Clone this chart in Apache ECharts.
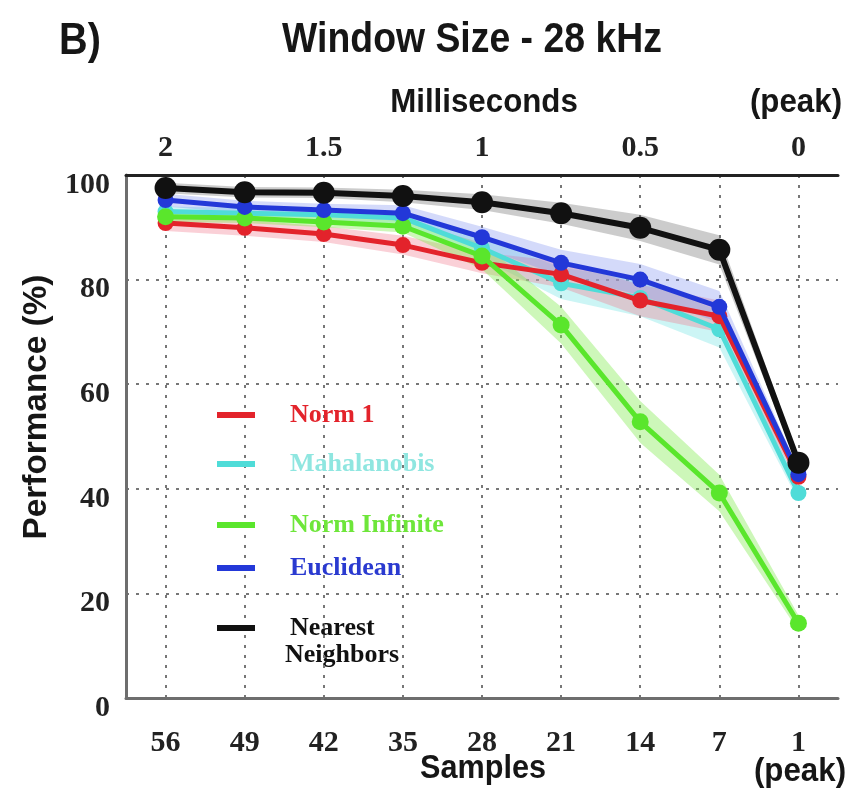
<!DOCTYPE html>
<html>
<head>
<meta charset="utf-8">
<script src="https://cdn.jsdelivr.net/npm/echarts@6/dist/echarts.min.js"></script>
<style>html,body{margin:0;padding:0;background:#fff}#c{width:852px;height:788px}</style>
</head>
<body>
<div id="c"></div>
<script>
// ---- data ----
var samples = ['56', '49', '42', '35', '28', '21', '14', '7', '1'];
var msLabels = ['2', '', '1.5', '', '1', '', '0.5', '', '0'];
var yTicks = [0, 20, 40, 60, 80, 100];

var norm1 = [90.8, 89.9, 88.7, 86.6, 83.2, 81.0, 76.0, 73.0, 42.3];
var mahalanobis = [93.0, 92.7, 92.4, 91.8, 86.0, 79.3, 76.5, 70.5, 39.2];
var normInf = [92.0, 91.8, 91.0, 90.2, 84.5, 71.3, 52.8, 39.2, 14.3];
var euclidean = [95.2, 93.9, 93.3, 92.7, 88.1, 83.2, 80.0, 74.8, 42.8];
var nearest = [97.5, 96.7, 96.6, 96.0, 94.8, 92.7, 89.9, 85.7, 45.0];

// half-width of the shaded band around each curve
var norm1Err = [1.5, 1.5, 1.5, 1.8, 2.0, 2.5, 3.0, 3.0, 1.5];
var mahalanobisErr = [1.0, 1.0, 1.0, 1.2, 2.0, 3.0, 3.5, 3.5, 1.5];
var normInfErr = [1.0, 1.0, 1.0, 1.2, 2.5, 3.5, 4.0, 3.5, 1.5];
var euclideanErr = [1.2, 1.2, 1.2, 1.5, 2.0, 2.5, 3.0, 3.0, 1.0];
var nearestErr = [1.0, 1.0, 1.0, 1.2, 1.5, 2.0, 2.5, 2.8, 1.0];

var SERIF = '"Liberation Serif", "DejaVu Serif", serif';
var SANS = '"Liberation Sans", Arial, sans-serif';

var defs = [
  {name: 'Mahalanobis', data: mahalanobis, err: mahalanobisErr, color: '#4fdcd8', band: 'rgba(110,225,225,0.35)', size: 16, width: 5},
  {name: 'Norm 1', data: norm1, err: norm1Err, color: '#e3232b', band: 'rgba(240,120,140,0.35)', size: 16, width: 5},
  {name: 'Norm Infinite', data: normInf, err: normInfErr, color: '#5ae62c', band: 'rgba(130,235,80,0.40)', size: 17, width: 5},
  {name: 'Euclidean', data: euclidean, err: euclideanErr, color: '#2338d8', band: 'rgba(120,140,240,0.32)', size: 16, width: 5},
  {name: 'Nearest Neighbors', data: nearest, err: nearestErr, color: '#111111', band: 'rgba(110,110,110,0.35)', size: 22, width: 6}
];

var series = [];
defs.forEach(function (d, i) {
  var lo = d.data.map(function (v, k) { return +(v - d.err[k]).toFixed(2); });
  var span = d.err.map(function (e) { return +(2 * e).toFixed(2); });
  series.push({
    name: d.name + ' band lo', type: 'line', stack: 'band' + i, data: lo,
    symbol: 'none', lineStyle: {opacity: 0}, silent: true, z: 1
  });
  series.push({
    name: d.name + ' band', type: 'line', stack: 'band' + i, data: span,
    symbol: 'none', lineStyle: {opacity: 0}, areaStyle: {color: d.band, opacity: 1}, silent: true, z: 1
  });
});
defs.forEach(function (d, i) {
  series.push({
    name: d.name, type: 'line', data: d.data, symbol: 'circle', symbolSize: d.size,
    itemStyle: {color: d.color}, lineStyle: {color: d.color, width: d.width}, z: 3 + i
  });
});

var legendRows = [
  {name: 'Norm 1', y: 410, color: '#e3232b'},
  {name: 'Mahalanobis', y: 459, color: '#8fe6e0'},
  {name: 'Norm Infinite', y: 520, color: '#6ee63a'},
  {name: 'Euclidean', y: 563, color: '#2a3ad0'},
  {name: 'Nearest Neighbors', y: 623, color: '#111111'}
];
var legends = legendRows.map(function (r) {
  return {
    data: [r.name], left: 212, top: r.y - 13, itemWidth: 38, itemHeight: 6, icon: 'rect',
    selectedMode: false, orient: 'vertical',
    formatter: function (n) { return n === 'Nearest Neighbors' ? 'Nearest' : n; },
    textStyle: {color: r.color, fontFamily: SERIF, fontWeight: 'bold', fontSize: 26, padding: [0, 0, 0, 30]}
  };
});

function narrowText(text, x, y, size, sx, rot) {
  return {
    type: 'text', x: x, y: y, scaleX: sx, rotation: rot || 0,
    style: {text: text, x: 0, y: 0, align: 'center', verticalAlign: 'middle', font: 'bold ' + size + 'px ' + SANS, fill: '#161616'}
  };
}

var chart = echarts.init(document.getElementById('c'));
chart.setOption({
  backgroundColor: '#fff',
  animation: false,
  legend: legends,
  grid: {left: 126, right: 14, top: 175, bottom: 90, containLabel: false},
  xAxis: [{
    type: 'category', data: samples, boundaryGap: true, position: 'bottom',
    axisLine: {lineStyle: {color: '#6e6e6e', width: 3}},
    axisTick: {inside: true, alignWithLabel: true, length: 7, lineStyle: {color: '#6e6e6e', width: 2}},
    axisLabel: {interval: 0, margin: 30, fontFamily: SERIF, fontWeight: 'bold', fontSize: 30, color: '#222'},
    splitLine: {show: true, interval: 0, alignWithLabel: true, lineStyle: {type: [3, 7], color: '#777', width: 2}}
  }, {
    type: 'category', data: msLabels, boundaryGap: true, position: 'top',
    axisLine: {lineStyle: {color: '#222', width: 3}},
    axisTick: {inside: true, alignWithLabel: true, interval: 0, length: 7, lineStyle: {color: '#222', width: 2}},
    axisLabel: {interval: 0, margin: 12, fontFamily: SERIF, fontWeight: 'bold', fontSize: 30, color: '#222'},
    splitLine: {show: false}
  }],
  yAxis: {
    type: 'value', min: yTicks[0], max: yTicks[yTicks.length - 1], interval: 20,
    axisLine: {show: true, lineStyle: {color: '#6e6e6e', width: 3}},
    axisTick: {show: false},
    axisLabel: {margin: 16, fontFamily: SERIF, fontWeight: 'bold', fontSize: 30, color: '#222', verticalAlign: 'top', lineHeight: 20},
    splitLine: {show: true, lineStyle: {type: [3, 7], color: '#777', width: 2}}
  },
  graphic: [
    narrowText('B)', 80, 42, 44, 0.9),
    narrowText('Window Size - 28 kHz', 472, 40, 42, 0.89),
    narrowText('Milliseconds', 484, 103, 34, 0.92),
    narrowText('(peak)', 796, 103, 34, 0.92),
    narrowText('Samples', 483, 769, 34, 0.9),
    narrowText('(peak)', 800, 772, 34, 0.92),
    narrowText('Performance (%)', 37, 407, 34, 0.98, Math.PI / 2),
    {type: 'text', style: {text: 'Neighbors', x: 285, y: 655, align: 'left', verticalAlign: 'middle', font: 'bold 26px ' + SERIF, fill: '#111'}}
  ],
  series: series
});
</script>
</body>
</html>
